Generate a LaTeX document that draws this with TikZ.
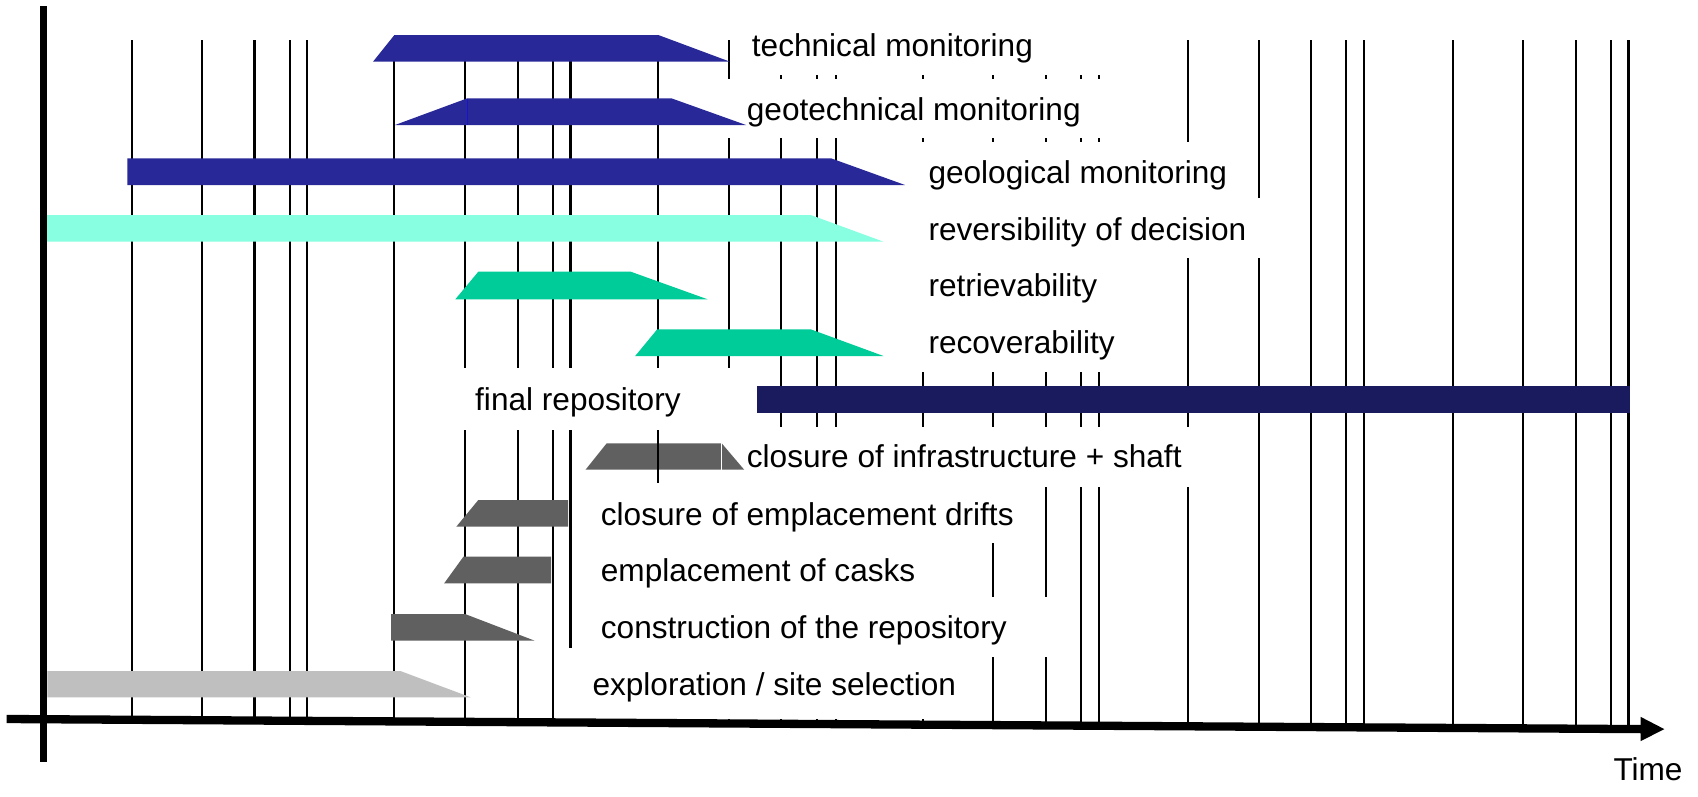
\documentclass[tikz,border=0pt]{standalone}
\usepackage{fontspec}
\setmainfont{Liberation Sans}
\definecolor{mblue}{RGB}{40,40,152}
\definecolor{aquab}{RGB}{136,255,224}
\definecolor{mgreen}{RGB}{0,204,153}
\definecolor{navyb}{RGB}{26,26,94}
\definecolor{dgrey}{RGB}{96,96,96}
\definecolor{lgrey}{RGB}{191,191,191}
\begin{document}
\begin{tikzpicture}[x=1pt,y=-1pt,
  gridline/.style={line width=2.1pt, black},
  mask/.style={fill=white},
  lbl/.style={anchor=base west, inner sep=0pt, font=\fontsize{31.6}{36}\selectfont},
  ]
\useasboundingbox (0,0) rectangle (1698,796);
\fill[white] (0,0) rectangle (1698,796);
% vertical grid lines
\foreach \x in {131.6,201.8,254.5,290,307,394.4,465.2,517.8,552.9,570.5,658.3,728.6,781.2,816.8,835.8,923.2,993.3,1046.3,1080.8,1099.2,1188.2,1258.6,1311,1346,1364,1452.9,1522.9,1576,1611,1628.5}
  \draw[gridline] (\x,40) -- (\x,{719+0.0062*(\x-7)});
% white label areas
\fill[mask] (738,30) rectangle (1184,75);
\fill[mask] (690,78.5) rectangle (1184,138);
\fill[mask] (870,142) rectangle (1240,198.3);
\fill[mask] (870,198.3) rectangle (1290,258.3);
\fill[mask] (870,258.3) rectangle (1150,371.7);
\fill[mask] (430,368.3) rectangle (745,430);
\fill[mask] (690,426.7) rectangle (1210,486.7);
\fill[mask] (590,483.3) rectangle (1040,543.3);
\fill[mask] (590,543.3) rectangle (985,596.7);
\fill[mask] (590,596.7) rectangle (1070,656.7);
\fill[mask] (560,648.3) rectangle (985,719);
% bars
\fill[mblue] (373,61.7) -- (394.4,35) -- (658.3,35) -- (730,61.7) -- cycle;
\fill[mblue] (395,125) -- (467.3,98.3) -- (671.4,98.3) -- (746,125) -- cycle;
\draw[blue!45!mblue, line width=0.8pt] (467.3,98.6) -- (467.3,124.7);
\fill[mblue] (127.3,158.3) -- (831,158.3) -- (905,185) -- (127.3,185) -- cycle;
\fill[aquab] (47.2,215) -- (810.7,215) -- (883.5,241.7) -- (47.2,241.7) -- cycle;
\fill[mgreen] (455.3,299.3) -- (478.3,271.7) -- (630.8,271.7) -- (707.6,299.3) -- cycle;
\fill[mgreen] (635.2,356) -- (657.2,329.3) -- (810.7,329.3) -- (883.5,356) -- cycle;
\fill[navyb] (756.7,386.3) rectangle (1629.6,412.7);
\fill[dgrey] (585.7,469.5) -- (606.7,443.3) -- (721.7,443.3) -- (744,469.5) -- cycle;
\draw[white, line width=1.2pt] (721.7,443.3) -- (721.7,469.5);
\fill[dgrey] (456.3,526.7) -- (478.3,500) -- (568,500) -- (568,526.7) -- cycle;
\fill[dgrey] (444.2,583.3) -- (463.4,556.7) -- (551.2,556.7) -- (551.2,583.3) -- cycle;
\fill[dgrey] (391,614) -- (465,614) -- (534.7,640.7) -- (391,640.7) -- cycle;
\fill[lgrey] (47.3,671) -- (400.4,671) -- (470.6,697.3) -- (47.3,697.3) -- cycle;
% grid segment drawn over the closure bar
\draw[gridline] (658.3,430) -- (658.3,483.3);
% axes
\draw[line width=7.3pt] (43.7,6) -- (43.7,761.7);
\draw[line width=8.3pt] (6.7,719) -- (1642,729.1);
\fill (1640.7,716.9) -- (1664.3,729.1) -- (1640.7,741.1) -- cycle;
% labels
\node[lbl] (tm) at (751.7,56.7) {technical monitoring};
\node[lbl] (gtm) at (746.7,120) {geotechnical monitoring};
\node[lbl] (glm) at (928.3,183.3) {geological monitoring};
\node[lbl] (rev) at (928.3,240) {reversibility of decision};
\node[lbl] (ret) at (928.3,296.7) {retrievability};
\node[lbl] (rec) at (928.3,353.3) {recoverability};
\node[lbl] (fr) at (475,410) {final repository};
\node[lbl] (cis) at (746.7,467.3) {closure of infrastructure + shaft};
\node[lbl] (ced) at (600.7,525) {closure of emplacement drifts};
\node[lbl] (eoc) at (600.7,581.7) {emplacement of casks};
\node[lbl] (cor) at (600.7,638.3) {construction of the repository};
\node[lbl] (ess) at (592.3,695) {exploration / site selection};
\node[lbl] (time) at (1613.3,780) {Time};
\end{tikzpicture}
\end{document}
